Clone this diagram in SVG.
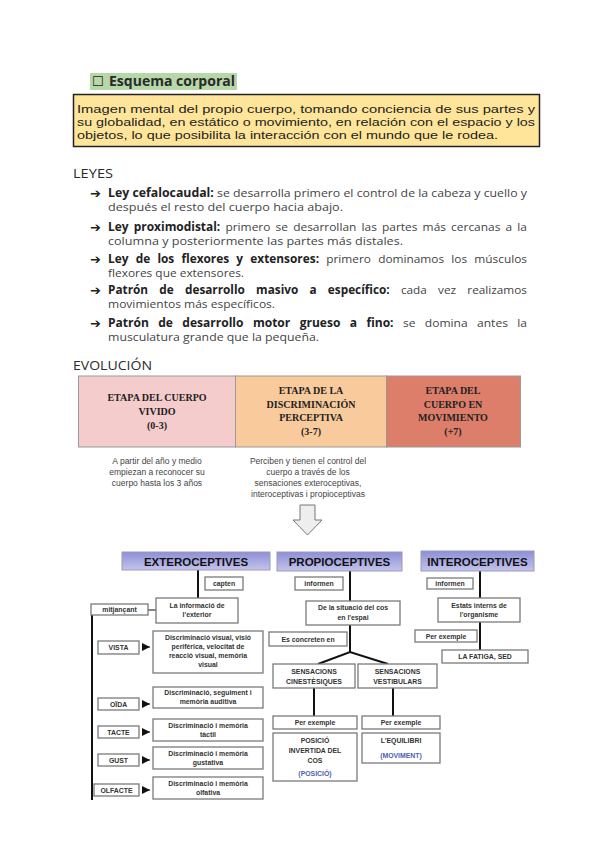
<svg xmlns="http://www.w3.org/2000/svg" width="600" height="848" viewBox="0 0 600 848">
<defs>
<linearGradient id="hdr" x1="0" y1="0" x2="0" y2="1">
<stop offset="0" stop-color="#8e8ed6"/>
<stop offset="1" stop-color="#c4c4ec"/>
</linearGradient>
<marker id="tri" viewBox="0 0 8 8" refX="8" refY="4" markerWidth="8" markerHeight="8" markerUnits="userSpaceOnUse" orient="auto">
<path d="M0,0 L8,4 L0,8 Z" fill="#111"/>
</marker>
</defs>
<style>
.t{font-family:"Open Sans","Noto Sans",sans-serif;fill:#2a2a2a}
.p{font-family:"Liberation Sans",Arial,sans-serif;font-size:11.5px;fill:#222}
.b{font-weight:bold}
.lw{font-family:"Open Sans","Noto Sans",sans-serif;font-size:11.5px;fill:#444}
.lw .b{fill:#222}
.ser{font-family:"Liberation Serif",serif;font-weight:bold;font-size:10px;fill:#222;text-anchor:middle}
.note{font-family:"Liberation Sans",Arial,sans-serif;font-size:8.5px;fill:#444;text-anchor:middle}
.hd{fill:url(#hdr);stroke:#9a9ab8;stroke-width:1}
.hdt{font-family:"Liberation Sans",Arial,sans-serif;font-weight:bold;font-size:11.5px;fill:#111;text-anchor:middle}
.bx{fill:#fff;stroke:#7a7a7a;stroke-width:1.3}
.st{font-family:"Liberation Sans",Arial,sans-serif;font-weight:bold;font-size:6.9px;fill:#333;text-anchor:middle}
.blue{fill:#4a5fb0}
.ln{stroke:#111;stroke-width:2;fill:none}
.tn{stroke:#111;stroke-width:1;fill:none}
</style>

<g id="title">
<rect x="90" y="73" width="147" height="17" fill="#b6d7a8"/>
<text x="92" y="86" font-family="DejaVu Sans,sans-serif" font-size="13" fill="#222">☐</text>
<text class="t b" x="109" y="86" font-size="14.5" textLength="126" lengthAdjust="spacingAndGlyphs">Esquema corporal</text>
</g>

<g id="definition">
<rect x="73.5" y="94.5" width="466" height="52" fill="#ffe59a" stroke="#222" stroke-width="1.5"/>
<text class="p" x="77" y="113" textLength="458" lengthAdjust="spacingAndGlyphs">Imagen mental del propio cuerpo, tomando conciencia de sus partes y</text>
<text class="p" x="77" y="126" textLength="458" lengthAdjust="spacingAndGlyphs">su globalidad, en estático o movimiento, en relación con el espacio y los</text>
<text class="p" x="77" y="139" textLength="421" lengthAdjust="spacingAndGlyphs">objetos, lo que posibilita la interacción con el mundo que le rodea.</text>
</g>

<g id="leyes">
<text class="t" x="73" y="178" font-size="13" fill="#333" textLength="40" lengthAdjust="spacingAndGlyphs">LEYES</text>
<g font-family="DejaVu Sans,sans-serif" font-size="13" fill="#222">
<text x="90" y="197.5">➔</text>
<text x="90" y="231.5">➔</text>
<text x="90" y="263.5">➔</text>
<text x="90" y="294.5">➔</text>
<text x="90" y="327.5">➔</text>
</g>
<text class="lw" x="108" y="197" textLength="419" lengthAdjust="spacingAndGlyphs"><tspan class="b">Ley cefalocaudal:</tspan> se desarrolla primero el control de la cabeza y cuello y</text>
<text class="lw" x="108" y="211" textLength="235" lengthAdjust="spacingAndGlyphs">después el resto del cuerpo hacia abajo.</text>
<text class="lw" x="108" y="231" word-spacing="2" textLength="419" lengthAdjust="spacingAndGlyphs"><tspan class="b">Ley proximodistal:</tspan> primero se desarrollan las partes más cercanas a la</text>
<text class="lw" x="108" y="245" textLength="295" lengthAdjust="spacingAndGlyphs">columna y posteriormente las partes más distales.</text>
<text class="lw" x="108" y="263" word-spacing="4" textLength="419" lengthAdjust="spacingAndGlyphs"><tspan class="b">Ley de los flexores y extensores:</tspan> primero dominamos los músculos</text>
<text class="lw" x="108" y="277" textLength="136" lengthAdjust="spacingAndGlyphs">flexores que extensores.</text>
<text class="lw" x="108" y="294" word-spacing="8" textLength="419" lengthAdjust="spacingAndGlyphs"><tspan class="b">Patrón de desarrollo masivo a específico:</tspan> cada vez realizamos</text>
<text class="lw" x="108" y="308" textLength="167" lengthAdjust="spacingAndGlyphs">movimientos más específicos.</text>
<text class="lw" x="108" y="327" word-spacing="6" textLength="419" lengthAdjust="spacingAndGlyphs"><tspan class="b">Patrón de desarrollo motor grueso a fino:</tspan> se domina antes la</text>
<text class="lw" x="108" y="341" textLength="211" lengthAdjust="spacingAndGlyphs">musculatura grande que la pequeña.</text>
</g>

<g id="evolucion">
<text class="t" x="73" y="370" font-size="13" fill="#333" textLength="79" lengthAdjust="spacingAndGlyphs">EVOLUCIÓN</text>
</g>

<g id="etapa1">
<rect x="78.5" y="376" width="157" height="71" fill="#f4cccc" stroke="#999" stroke-width="1"/>
<text class="ser" x="157" y="401">ETAPA DEL CUERPO</text>
<text class="ser" x="157" y="415">VIVIDO</text>
<text class="ser" x="157" y="429">(0-3)</text>
<text class="note" x="157" y="464">A partir del año y medio</text>
<text class="note" x="157" y="475">empiezan a reconocer su</text>
<text class="note" x="157" y="486">cuerpo hasta los 3 años</text>
</g>
<g id="etapa2">
<rect x="235.5" y="376" width="151" height="71" fill="#f9cb9c" stroke="#999" stroke-width="1"/>
<text class="ser" x="311" y="394">ETAPA DE LA</text>
<text class="ser" x="311" y="408">DISCRIMINACIÓN</text>
<text class="ser" x="311" y="421">PERCEPTIVA</text>
<text class="ser" x="311" y="435">(3-7)</text>
<text class="note" x="308" y="464">Perciben y tienen el control del</text>
<text class="note" x="308" y="475">cuerpo a través de los</text>
<text class="note" x="308" y="486">sensaciones exteroceptivas,</text>
<text class="note" x="308" y="497">interoceptivas i propioceptivas</text>
</g>
<g id="etapa3">
<rect x="386.5" y="376" width="134" height="71" fill="#dd7e6b" stroke="#999" stroke-width="1"/>
<text class="ser" x="453" y="394">ETAPA DEL</text>
<text class="ser" x="453" y="408">CUERPO EN</text>
<text class="ser" x="453" y="421">MOVIMIENTO</text>
<text class="ser" x="453" y="435" font-weight="normal">(+7)</text>
</g>

<g id="down-arrow">
<polygon points="300,505 315,505 315,520 322,520 307.5,535 293,520 300,520" fill="#eeeeee" stroke="#777" stroke-width="1"/>
</g>

<g id="connectors">
<line class="ln" x1="198" y1="570" x2="198" y2="598"/>
<line class="tn" x1="148" y1="610" x2="156" y2="610"/>
<line class="ln" x1="92" y1="615" x2="92" y2="800"/>
<line class="tn" x1="143" y1="647" x2="150" y2="647" marker-end="url(#tri)"/>
<line class="tn" x1="143" y1="704" x2="150" y2="704" marker-end="url(#tri)"/>
<line class="tn" x1="143" y1="732" x2="150" y2="732" marker-end="url(#tri)"/>
<line class="tn" x1="143" y1="760" x2="150" y2="760" marker-end="url(#tri)"/>
<line class="tn" x1="143" y1="790" x2="150" y2="790" marker-end="url(#tri)"/>
<line class="ln" x1="350" y1="571" x2="350" y2="601"/>
<polyline class="ln" points="350,625 350,652"/>
<polyline class="ln" points="318,664 350,652 388,664"/>
<line class="ln" x1="314" y1="688" x2="314" y2="716"/>
<line class="ln" x1="393" y1="688" x2="393" y2="716"/>
<line class="ln" x1="480" y1="571" x2="480" y2="598"/>
<line class="ln" x1="480" y1="622" x2="480" y2="650"/>
</g>

<g id="exteroceptives">
<rect class="hd" x="122" y="552" width="148" height="18"/>
<text class="hdt" x="196" y="565.5">EXTEROCEPTIVES</text>
</g>
<g id="capten"><rect class="bx" x="205" y="577" width="38" height="13"/><text class="st" x="224" y="586">capten</text></g>
<g id="informacio-exterior"><rect class="bx" x="156" y="598" width="82" height="25"/><text class="st" x="197" y="608">La informació de</text><text class="st" x="197" y="617">l'exterior</text></g>
<g id="mitjancant"><rect class="bx" x="91" y="604" width="57" height="11"/><text class="st" x="119.5" y="612" font-weight="normal">mitjançant</text></g>
<g id="vista"><rect class="bx" x="98" y="641" width="41" height="13"/><text class="st" x="118.5" y="650">VISTA</text></g>
<g id="disc-visual"><rect class="bx" x="153" y="631" width="110" height="42"/><text class="st" x="208" y="640">Discriminació visual, visió</text><text class="st" x="208" y="649">perifèrica, velocitat de</text><text class="st" x="208" y="658">reacció visual,  memòria</text><text class="st" x="208" y="667">visual</text></g>
<g id="oida"><rect class="bx" x="98" y="698" width="41" height="12"/><text class="st" x="118.5" y="706.5">OÏDA</text></g>
<g id="disc-auditiva"><rect class="bx" x="153" y="687" width="110" height="21"/><text class="st" x="208" y="695">Discriminació,  seguiment i</text><text class="st" x="208" y="704">memòria auditiva</text></g>
<g id="tacte"><rect class="bx" x="98" y="726" width="41" height="12"/><text class="st" x="118.5" y="734.5">TACTE</text></g>
<g id="disc-tactil"><rect class="bx" x="153" y="719" width="110" height="22"/><text class="st" x="208" y="728">Discriminació  i  memòria</text><text class="st" x="208" y="737">tàctil</text></g>
<g id="gust"><rect class="bx" x="98" y="754" width="41" height="12"/><text class="st" x="118.5" y="762.5">GUST</text></g>
<g id="disc-gustativa"><rect class="bx" x="153" y="747" width="110" height="22"/><text class="st" x="208" y="756">Discriminació i  memòria</text><text class="st" x="208" y="765">gustativa</text></g>
<g id="olfacte"><rect class="bx" x="94" y="784" width="45" height="12"/><text class="st" x="116.5" y="792.5">OLFACTE</text></g>
<g id="disc-olfativa"><rect class="bx" x="153" y="777" width="110" height="22"/><text class="st" x="208" y="786">Discriminació i  memòria</text><text class="st" x="208" y="795">olfativa</text></g>

<g id="propioceptives">
<rect class="hd" x="277" y="552" width="125" height="19"/>
<text class="hdt" x="339.5" y="566">PROPIOCEPTIVES</text>
</g>
<g id="informen-p"><rect class="bx" x="295" y="577" width="48" height="13"/><text class="st" x="319" y="586">informen</text></g>
<g id="situacio"><rect class="bx" x="306" y="601" width="94" height="24"/><text class="st" x="353" y="610">De la situació del cos</text><text class="st" x="353" y="619.5">en l'espai</text></g>
<g id="concreten"><rect class="bx" x="269" y="632" width="78" height="14"/><text class="st" x="308" y="641.5">Es concreten en</text></g>
<g id="cinestesiques"><rect class="bx" x="273" y="664" width="82" height="24"/><text class="st" x="314" y="674">SENSACIONS</text><text class="st" x="314" y="683.5">CINESTÈSIQUES</text></g>
<g id="vestibulars"><rect class="bx" x="358" y="664" width="79" height="24"/><text class="st" x="397.5" y="674">SENSACIONS</text><text class="st" x="397.5" y="683.5">VESTIBULARS</text></g>
<g id="perexemple-l"><rect class="bx" x="273" y="716" width="84" height="13"/><text class="st" x="315" y="725">Per exemple</text></g>
<g id="perexemple-r"><rect class="bx" x="362" y="716" width="78" height="13"/><text class="st" x="401" y="725">Per exemple</text></g>
<g id="posicio"><rect class="bx" x="273" y="733" width="84" height="48"/><text class="st" x="315" y="743">POSICIÓ</text><text class="st" x="315" y="753">INVERTIDA DEL</text><text class="st" x="315" y="763">COS</text><text class="st blue" x="315" y="776">(POSICIÓ)</text></g>
<g id="equilibri"><rect class="bx" x="362" y="733" width="78" height="30"/><text class="st" x="401" y="743">L'EQUILIBRI</text><text class="st blue" x="401" y="758">(MOVIMENT)</text></g>

<g id="interoceptives">
<rect class="hd" x="421" y="551" width="113" height="20"/>
<text class="hdt" x="477.5" y="565.5">INTEROCEPTIVES</text>
</g>
<g id="informen-i"><rect class="bx" x="427" y="578" width="46" height="11"/><text class="st" x="450" y="586">informen</text></g>
<g id="estats"><rect class="bx" x="438" y="598" width="82" height="24"/><text class="st" x="479" y="607.5">Estats interns de</text><text class="st" x="479" y="617">l'organisme</text></g>
<g id="perexemple-i"><rect class="bx" x="415" y="630" width="62" height="12"/><text class="st" x="446" y="638.5">Per exemple</text></g>
<g id="fatiga"><rect class="bx" x="442" y="650" width="86" height="13"/><text class="st" x="485" y="659">LA FATIGA, SED</text></g>
</svg>
